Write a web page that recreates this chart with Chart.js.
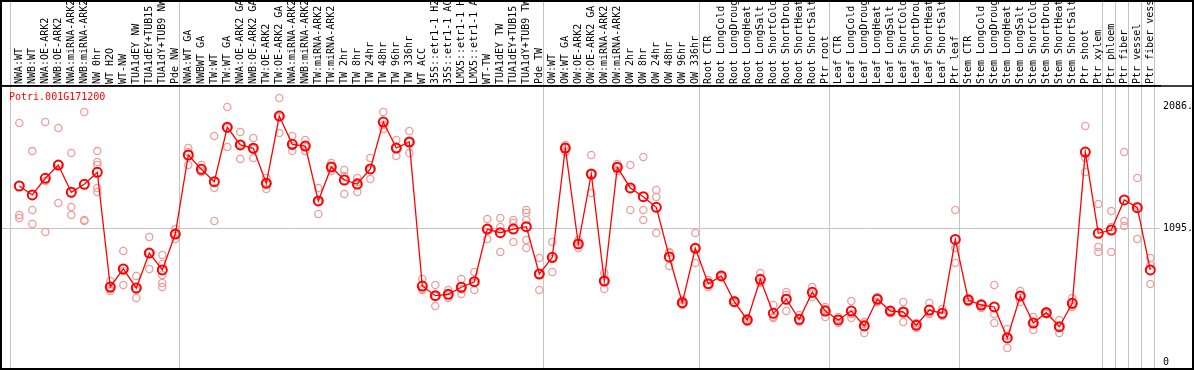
<!DOCTYPE html>
<html>
<head>
<meta charset="utf-8">
<script src="https://cdn.jsdelivr.net/npm/chart.js@4/dist/chart.umd.min.js"></script>
<style>
  html, body { margin: 0; padding: 0; background: #fff; }
  #wrap { position: relative; width: 1194px; height: 370px; }
  #title { position: absolute; left: 9px; top: 91px; color: #ff0000;
           font: 10px/12px "DejaVu Sans Mono", monospace; }
</style>
</head>
<body>
<div id="wrap">
  <canvas id="chart" width="1194" height="370"></canvas>
  <div id="title">Potri.001G171200</div>
</div>
<script>
const labels = [
  "NWA:WT", "NWB:WT", "NWA:OE-ARK2", "NWB:OE-ARK2", "NWA:miRNA-ARK2", "NWB:miRNA-ARK2",
  "NW 0hr", "WT H2O", "WT-NW", "TUA1dEY NW", "TUA1dEY+TUB15 NW", "TUA1dY+TUB9 NW", "Pde NW",
  "NWA:WT GA", "NWBWT GA", "TW:WT", "TW:WT GA", "NWA:OE-ARK2 GA", "NWB:OE-ARK2 GA",
  "TW:OE-ARK2", "TW:OE-ARK2 GA", "NWA:miRNA-ARK2", "NWB:miRNA-ARK2", "TW:miRNA-ARK2",
  "TW:miRNA-ARK2", "TW 2hr", "TW 8hr", "TW 24hr", "TW 48hr", "TW 96hr", "TW 336hr", "WT ACC",
  "35S::etr1-1 H2O", "35S::etr1-1 ACC", "LMX5::etr1-1 H2O", "LMX5::etr1-1 ACC", "WT-TW",
  "TUA1dEY TW", "TUA1dEY+TUB15 TW", "TUA1dY+TUB9 TW", "Pde TW",
  "OW:WT", "OW:WT GA", "OW:OE-ARK2", "OW:OE-ARK2 GA", "OW:miRNA-ARK2", "OW:miRNA-ARK2",
  "OW 2hr", "OW 8hr", "OW 24hr", "OW 48hr", "OW 96hr", "OW 336hr",
  "Root CTR", "Root LongCold", "Root LongDrought", "Root LongHeat", "Root LongSalt",
  "Root ShortCold", "Root ShortDrought", "Root ShortHeat", "Root ShortSalt", "Ptr root",
  "Leaf CTR", "Leaf LongCold", "Leaf LongDrought", "Leaf LongHeat", "Leaf LongSalt",
  "Leaf ShortCold", "Leaf ShortDrought", "Leaf ShortHeat", "Leaf ShortSalt", "Ptr leaf",
  "Stem CTR", "Stem LongCold", "Stem LongDrought", "Stem LongHeat", "Stem LongSalt",
  "Stem ShortCold", "Stem ShortDrought", "Stem ShortHeat", "Stem ShortSalt", "Ptr shoot",
  "Ptr xylem", "Ptr phloem", "Ptr fiber", "Ptr vessel", "Ptr fiber vessel"
];

// mean expression (red line)
const means = [
  1440, 1367, 1503, 1611, 1389, 1454, 1552, 616, 763, 608, 893, 755, 1048,
  1693, 1576, 1475, 1919, 1775, 1748, 1462, 2011, 1780, 1766, 1318, 1595, 1489, 1456, 1579,
  1962, 1750, 1799, 624, 545, 556, 614, 659, 1089, 1059, 1089, 1108, 722,
  858, 1750, 967, 1538, 665, 1593, 1424, 1353, 1266, 861, 488, 932,
  643, 706, 496, 347, 679, 401, 516, 352, 573, 420,
  347, 420, 298, 516, 420, 412, 304, 428, 401, 1004,
  510, 469, 453, 200, 543, 322, 406, 292, 483, 1717,
  1054, 1081, 1326, 1263, 755
];

// replicate samples (pink circles)
const rep1 = [
  1954, 1725, 1962, 1913, 1709, 2044, 1725, 665, 910, 706, 1024, 877, 1089,
  1750, 1611, 1848, 2085, 1881, 1832, 1505, 2158, 1848, 1815, 1424, 1628, 1571, 1505, 1668,
  2044, 1815, 1889, 681, 632, 591, 681, 738, 1171, 1179, 1163, 1244, 853,
  983, 1775, 999, 1693, 730, 1620, 1611, 1677, 1407, 902, 510, 1057,
  673, 714, 510, 363, 730, 469, 575, 388, 616, 453,
  371, 502, 330, 534, 428, 494, 322, 485, 437, 1244,
  526, 485, 632, 273, 583, 371, 420, 347, 526, 1930,
  1293, 1236, 1717, 1505, 853
];
const rep2 = [
  1203, 1244, 1481, 1620, 1269, 1163, 1636, 600, 746, 591, 893, 804, 1048,
  1717, 1562, 1424, 1913, 1783, 1742, 1464, 2003, 1766, 1758, 1318, 1595, 1522, 1473, 1571,
  1938, 1750, 1799, 600, 543, 551, 600, 649, 1089, 1106, 1138, 1220, 722,
  844, 1750, 967, 1538, 665, 1595, 1416, 1244, 1350, 893, 485, 934,
  640, 706, 494, 347, 657, 371, 551, 339, 559, 437,
  355, 396, 314, 518, 420, 412, 306, 404, 388, 934,
  510, 477, 396, 216, 543, 330, 404, 290, 469, 1668,
  942, 1106, 1154, 1277, 795
];
const rep3 = [
  1179, 1130, 1065, 1301, 1203, 1154, 1611, 583, 632, 526, 763, 714, 1008,
  1611, 1554, 1154, 1758, 1660, 1668, 1416, 1872, 1725, 1725, 1212, 1562, 1375, 1391, 1497,
  1905, 1685, 1709, 591, 461, 526, 559, 591, 1008, 901, 983, 1163, 591,
  738, 1717, 934, 1383, 600, 1562, 1244, 1163, 1057, 787, 469, 812,
  616, 698, 485, 330, 649, 363, 420, 330, 534, 371,
  322, 363, 241, 494, 404, 330, 281, 396, 379, 812,
  494, 445, 322, 118, 494, 265, 396, 241, 453, 1554,
  901, 901, 1114, 1008, 640
];
// extra replicates for the few samples with more than three
const rep4 = { 6: 1424, 11: 649, 39: 999 };
const rep5 = { 6: 1391, 11: 616, 39: 934 };

const yTicks = [0, 1095, 2086];
const yTickLabels = ["0", "1095.", "2086."];
// group separators sit just after the last sample of each group
const sepTicks = [0, 13, 41, 53, 63, 73, 84, 85, 86, 87, 88];
const SEP_SHIFT = 0.64;

const monoFont = { family: "'DejaVu Sans Mono', monospace", size: 10, lineHeight: 1.2 };

const repPoints = [];
[rep1, rep2, rep3].forEach(arr => arr.forEach((v, i) => repPoints.push({ x: i, y: v })));
[rep4, rep5].forEach(obj => Object.keys(obj).forEach(k => repPoints.push({ x: +k, y: obj[k] })));

const framePlugin = {
  id: "frame",
  afterDraw(chart) {
    const ctx = chart.ctx;
    const top = chart.chartArea.top;
    ctx.save();
    ctx.strokeStyle = "#000";
    ctx.lineWidth = 2;
    ctx.strokeRect(1, 1, chart.width - 2, chart.height - 2);
    ctx.lineWidth = 1.5;
    ctx.beginPath();
    ctx.moveTo(0, top);
    ctx.lineTo(chart.width, top);
    ctx.stroke();
    ctx.restore();
  }
};

new Chart(document.getElementById("chart"), {
  type: "line",
  data: {
    datasets: [
      {
        label: "mean",
        data: means.map((v, i) => ({ x: i, y: v })),
        borderColor: "#ff0000",
        borderWidth: 1.3,
        pointRadius: 4.5,
        pointBorderWidth: 2,
        pointBorderColor: "#ff0000",
        pointBackgroundColor: "rgba(0,0,0,0)",
        order: 0
      },
      {
        label: "replicates",
        data: repPoints,
        showLine: false,
        pointRadius: 3.6,
        pointBorderWidth: 1.3,
        pointBorderColor: "#ef9c9c",
        pointBackgroundColor: "rgba(0,0,0,0)",
        order: 1
      }
    ]
  },
  options: {
    responsive: false,
    animation: false,
    devicePixelRatio: 1,
    layout: { autoPadding: false, padding: { left: 1, right: 0, top: 0, bottom: 1 } },
    plugins: { legend: { display: false }, tooltip: { enabled: false }, title: { display: false } },
    scales: {
      x: {
        type: "linear",
        position: "top",
        min: -1.4077,
        max: 87.746,
        afterBuildTicks: s => {
          s.ticks = labels.concat([""]).map((_, k) => ({ value: k - SEP_SHIFT }));
        },
        afterFit: s => { s.height = 86; s.paddingLeft = 0; s.paddingRight = 0; },
        grid: {
          color: c => sepTicks.includes(c.index) ? "#c4c4c4" : "rgba(0,0,0,0)",
          lineWidth: 1,
          tickLength: 86
        },
        border: { display: true, color: "#000", width: 1.5 },
        ticks: {
          autoSkip: false,
          minRotation: 90,
          maxRotation: 90,
          padding: -84,
          labelOffset: SEP_SHIFT * 13 + 12,
          color: "#000",
          font: monoFont,
          callback: (v, i) => labels[i] || ""
        }
      },
      y: {
        type: "linear",
        position: "right",
        min: -53.1,
        max: 2256,
        afterBuildTicks: s => { s.ticks = yTicks.map(v => ({ value: v })); },
        afterFit: s => { s.width = 34; s.paddingTop = 0; s.paddingBottom = 0; },
        grid: {
          color: c => (c.tick && c.tick.value === 1095) ? "#c4c4c4" : "rgba(0,0,0,0)",
          drawTicks: false
        },
        border: { display: false },
        ticks: {
          crossAlign: "near",
          padding: 3,
          color: "#000",
          font: monoFont,
          callback: (v, i) => yTickLabels[i]
        }
      }
    }
  },
  plugins: [framePlugin]
});
</script>
</body>
</html>
